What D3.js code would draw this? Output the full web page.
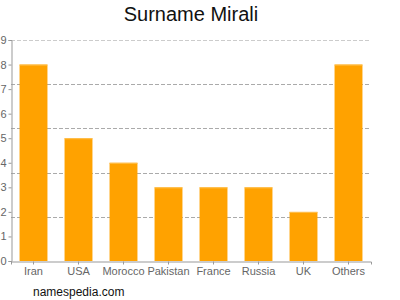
<!DOCTYPE html>
<html>
<head>
<meta charset="utf-8">
<script src="https://cdn.jsdelivr.net/npm/d3@7"></script>
<style>
  body { margin: 0; background: #fff; }
  text { font-family: Arial, "Liberation Sans", sans-serif; }
</style>
</head>
<body>
<svg id="chart"></svg>
<script>
const countries = ['Iran', 'USA', 'Morocco', 'Pakistan', 'France', 'Russia', 'UK', 'Others'];
const counts = [8, 5, 4, 3, 3, 3, 2, 8];
const yTicks = [0, 1, 2, 3, 4, 5, 6, 7, 8, 9];
// grid lines sit at fifths of the axis, not on the labels
const gridTicks = [1.8, 3.6, 5.4, 7.2, 9];

const size = {w: 400, h: 300};
const margin = {t: 40, r: 29, b: 39, l: 11};

const svg = d3.select('svg#chart')
    .attr('width', size.w)
    .attr('height', size.h);

const w = size.w - margin.l - margin.r;
const h = size.h - margin.t - margin.b;

const g = svg.append('g')
    .attr('transform', `translate(${margin.l}, ${margin.t})`);

const x = d3.scaleBand().domain(countries).range([0, w]).paddingInner(0.38).paddingOuter(0.19);
const y = d3.scaleLinear().domain([0, 9]).range([h, 0]);

// dashed grid lines
g.append('g')
    .selectAll('line')
    .data(gridTicks)
    .join('line')
    .attr('x1', 0)
    .attr('x2', w)
    .attr('y1', d => Math.round(y(d)) + 0.5)
    .attr('y2', d => Math.round(y(d)) + 0.5)
    .attr('stroke', d => d === 9 ? '#ccc' : '#aaa')
    .attr('stroke-dasharray', '4,2');

// bars
g.append('g')
    .selectAll('rect')
    .data(countries)
    .join('rect')
    .attr('x', d => x(d))
    .attr('y', (d, i) => y(counts[i]))
    .attr('width', x.bandwidth())
    .attr('height', (d, i) => h - y(counts[i]))
    .attr('fill', '#ffa200');

// lighter top edge
g.append('g')
    .selectAll('rect')
    .data(countries)
    .join('rect')
    .attr('x', d => x(d))
    .attr('y', (d, i) => y(counts[i]))
    .attr('width', x.bandwidth())
    .attr('height', 1)
    .attr('fill', '#ffc050');

// y axis
const yAxis = g.append('g')
    .attr('transform', 'translate(0.5,0)')
    .call(d3.axisLeft(y).tickValues(yTicks).tickSize(3).tickPadding(2));
yAxis.selectAll('path, line').attr('stroke', '#999');
yAxis.selectAll('text').attr('fill', '#666').style('font-size', '11px');

// x axis
const xAxis = g.append('g')
    .attr('transform', `translate(0, ${h + 0.5})`)
    .call(d3.axisBottom(x).tickSize(3).tickPadding(3));
xAxis.selectAll('path, line').attr('stroke', '#999');
xAxis.selectAll('text').attr('fill', '#666').style('font-size', '11px');

// title
svg.append('text')
    .attr('x', 191)
    .attr('y', 21)
    .attr('text-anchor', 'middle')
    .style('font-size', '20px')
    .attr('fill', '#111')
    .text('Surname Mirali');

svg.append('text')
    .attr('x', 33)
    .attr('y', 296)
    .style('font-size', '12px')
    .attr('fill', '#111')
    .text('namespedia.com');
</script>
</body>
</html>
